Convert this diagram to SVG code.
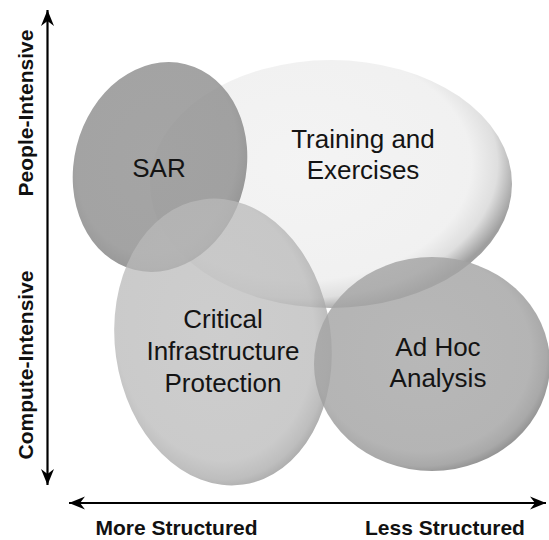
<svg xmlns="http://www.w3.org/2000/svg" width="549" height="540" viewBox="0 0 549 540">
<defs>
<style>
.lbl{font-family:"Liberation Sans",Arial,sans-serif;font-size:26px;fill:#141414;text-anchor:middle}
.ax{font-family:"Liberation Sans",Arial,sans-serif;font-size:21px;font-weight:bold;fill:#111;text-anchor:middle}
.axis{stroke:#000;stroke-width:2.2;fill:none}
</style>
<radialGradient id="gTrain" cx="0.42" cy="0.42" r="0.6">
<stop offset="0" stop-color="#f3f3f3"/>
<stop offset="0.78" stop-color="#f0f0f0"/>
<stop offset="0.9" stop-color="#dddddd"/>
<stop offset="1" stop-color="#9a9a9a"/>
</radialGradient>
<radialGradient id="gSar" cx="0.47" cy="0.46" r="0.56">
<stop offset="0" stop-color="#919191"/>
<stop offset="0.82" stop-color="#8f8f8f"/>
<stop offset="0.94" stop-color="#858585"/>
<stop offset="1" stop-color="#747474"/>
</radialGradient>
<radialGradient id="gCrit" cx="0.47" cy="0.45" r="0.56">
<stop offset="0" stop-color="#bdbdbd"/>
<stop offset="0.82" stop-color="#b9b9b9"/>
<stop offset="0.94" stop-color="#a8a8a8"/>
<stop offset="1" stop-color="#929292"/>
</radialGradient>
<radialGradient id="gAdhoc" cx="0.46" cy="0.45" r="0.56">
<stop offset="0" stop-color="#a8a8a8"/>
<stop offset="0.82" stop-color="#a4a4a4"/>
<stop offset="0.94" stop-color="#969696"/>
<stop offset="1" stop-color="#7e7e7e"/>
</radialGradient>
<marker id="ah" viewBox="-16 -7 17 14" refX="0" refY="0" markerWidth="17" markerHeight="14" markerUnits="userSpaceOnUse" orient="auto-start-reverse">
<path d="M0,0 L-16,-6.5 L-11,0 L-16,6.5 Z" fill="#000"/>
</marker>
</defs>
<rect width="549" height="540" fill="#fff"/>
<g id="training">
<ellipse cx="331" cy="184" rx="181" ry="124" fill="url(#gTrain)" opacity="0.95"/>
</g>
<g id="sar">
<ellipse cx="160" cy="167" rx="86" ry="106" transform="rotate(14 160 167)" fill="url(#gSar)" opacity="0.82"/>
</g>
<g id="critical">
<ellipse cx="223" cy="342" rx="108" ry="144" transform="rotate(-8 223 342)" fill="url(#gCrit)" opacity="0.75"/>
</g>
<g id="adhoc">
<ellipse cx="432" cy="364" rx="118" ry="107" fill="url(#gAdhoc)" opacity="0.82"/>
</g>
<g id="labels">
<text class="lbl" x="159" y="177">SAR</text>
<text class="lbl" x="363" y="148">Training and</text>
<text class="lbl" x="363" y="179">Exercises</text>
<text class="lbl" x="223" y="328">Critical</text>
<text class="lbl" x="223" y="360">Infrastructure</text>
<text class="lbl" x="223" y="392">Protection</text>
<text class="lbl" x="438" y="356">Ad Hoc</text>
<text class="lbl" x="438" y="387">Analysis</text>
</g>
<g id="connectors">
<line class="axis" x1="47.5" y1="247" x2="47.5" y2="10" marker-end="url(#ah)"/>
<line class="axis" x1="47.5" y1="247" x2="47.5" y2="485" marker-end="url(#ah)"/>
<line class="axis" x1="69" y1="503" x2="546" y2="503" marker-start="url(#ah)" marker-end="url(#ah)"/>
</g>
<g id="axis-labels">
<text class="ax" transform="translate(33 113) rotate(-90)">People-Intensive</text>
<text class="ax" transform="translate(33 365) rotate(-90)">Compute-Intensive</text>
<text class="ax" x="176.5" y="535">More Structured</text>
<text class="ax" x="445" y="535">Less Structured</text>
</g>
</svg>
